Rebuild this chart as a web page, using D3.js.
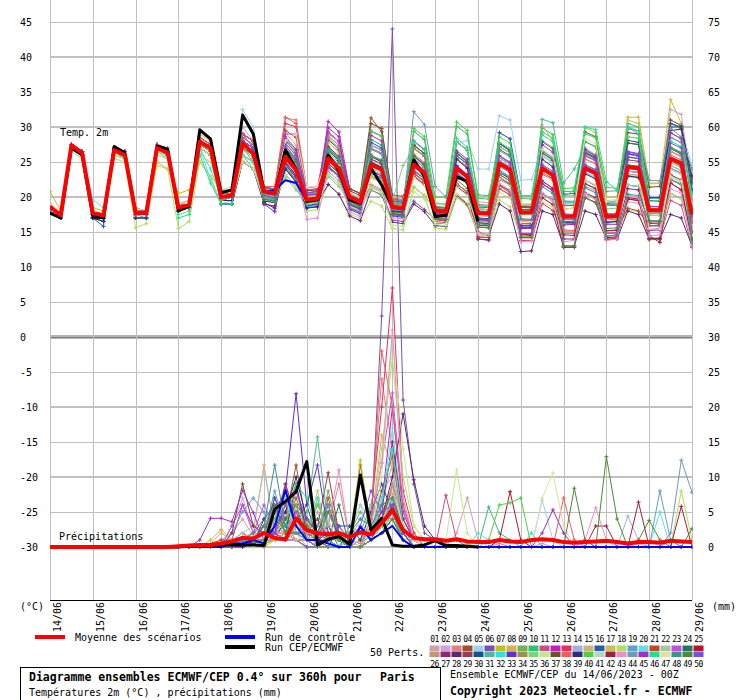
<!DOCTYPE html>
<html><head><meta charset="utf-8">
<script src="https://cdn.jsdelivr.net/npm/d3@7"></script>
<style>body{margin:0;background:#fff}svg{display:block}text{font-family:"DejaVu Sans Mono",monospace;fill:#000}</style>
</head><body><svg id="c" width="740" height="700"></svg>
<script>
// ---- axis labels ----
const dayLabels = ["14/06","15/06","16/06","17/06","18/06","19/06","20/06","21/06","22/06","23/06","24/06","25/06","26/06","27/06","28/06","29/06"];
const leftTicks = [45,40,35,30,25,20,15,10,5,0,-5,-10,-15,-20,-25,-30];
const rightTicks = [75,70,65,60,55,50,45,40,35,30,25,20,15,10,5,0];
const hours = d3.range(0, 361, 6); // 6-hourly steps, 0..360h

// ---- ensemble mean / control / operational (temp °C, precip mm) ----
const meanT = [18.6,17.4,27.4,26.3, 17.7,17.4,26.7,26.0, 17.7,17.7,27.0,26.3, 18.5,18.9,27.9,27.0, 20.0,20.2,27.7,26.2, 20.8,20.5,25.7,23.9, 19.6,19.8,25.5,24.1, 20.0,19.3,24.6,23.9, 18.6,18.4,24.6,23.4, 18.1,17.9,24.1,22.9, 17.7,17.6,24.8,23.9, 17.8,17.8,24.1,23.1, 17.2,17.2,24.1,23.4, 17.2,17.3,24.3,24.1, 18.1,18.1,25.5,24.8, 17.5];
const operT = [17.7,17.0,27.0,26.0, 17.2,17.0,27.2,26.3, 17.8,17.8,27.3,26.8, 18.0,18.7,29.6,28.3, 20.6,21.0,31.7,29.0, 20.8,20.5,26.7,24.0, 19.4,19.6,26.0,23.7, 19.6,19.1,24.1,21.7, 18.6,18.3,25.3,22.9, 17.2,17.4,22.9,22.2, 16.5];
const ctrlT = [18.6,17.4,27.4,26.3, 17.7,17.4,26.7,26.0, 17.7,17.7,27.0,26.3, 18.5,18.9,27.9,27.0, 20.0,20.2,27.7,26.2, 20.8,21.0,22.4,22.0, 19.6,19.8,25.5,24.1, 20.0,19.3,24.6,23.9, 18.6,18.4,24.6,23.4, 18.1,17.9,24.1,22.9, 17.7,17.6,24.8,23.9, 17.8,17.8,24.1,23.1, 17.2,17.2,24.1,23.4, 17.2,17.3,24.3,24.1, 18.1,18.1,25.5,24.8, 17.5];
const meanP = [0,0,0,0, 0,0,0,0, 0,0,0,0, 0.1,0.2,0.3,0.3, 0.5,0.8,1.3,1.2, 2.0,1.3,1.1,4.1, 2.4,2.0,1.8,2.0, 1.4,2.1,1.8,3.4, 5.3,2.4,1.3,1.1, 1.1,0.9,1.1,0.8, 0.7,0.7,1.0,0.8, 0.7,1.0,1.1,1.0, 0.7,0.6,0.7,0.8, 0.9,0.7,0.5,0.7, 0.7,0.6,0.9,0.8, 0.7];
const operP = [0,0,0,0, 0,0,0,0, 0,0,0,0, 0,0.1,0.2,0.3, 0.3,0.3,0.3,0.3, 0.2,5.4,6.5,7.9, 12.2,0.3,1.1,1.5, 0.4,10.3,2.4,4.1, 0.3,0.1,0.1,0.3, 0.9,0.2,0.2,0.1, 0];
const ctrlP = [0,0,0,0, 0,0,0,0, 0,0,0,0, 0,0,0,0, 0,0.5,0.5,1, 0.5,3,8.1,3, 1,1,0.5,0, 0,2.9,1,2, 3,1,0,0, 0,0,0,0, 0,0,0,0, 0,0,0,0, 0,0,0,0, 0,0,0,0, 0,0,0,0, 0];

// ---- 50 perturbed members: temperature ----
const T01=[18.5,17.5,27.5,26.5, 17.5,17,26.5,26, 17.5,17.5,27,26, 18.5,19,28,27, 20,20.5,28,26.5, 21.3,21.0,26.5,24.7, 19.1,19.3,27.8,26.4, 20.0,19.3,21.6,20.9, 18.0,17.8,25.6,24.4, 16.9,16.7,20.1,18.9, 14.7,14.6,22.8,21.9, 16.8,16.8,28.1,27.1, 19.2,19.2,26.1,25.4, 14.2,14.3,19.3,19.1, 18.1,18.1,28.5,27.8, 16.5];
const T02=[19,17.5,27,26, 18,17.5,27,26.5, 18,18,27,26.5, 18,18.5,28.5,27.5, 20.5,21,30,28, 21.5,21.2,27.7,25.9, 20.0,20.2,23.3,21.9, 19.4,18.7,27.4,26.7, 19.1,18.9,21.4,20.2, 18.1,17.9,27.9,26.7, 19.3,19.2,29.2,28.3, 20.2,20.2,21.9,20.9, 14.8,14.8,19.9,19.2, 14.8,14.9,25.7,25.5, 20.1,20.1,32.5,31.8, 21.5];
const T03=[18,17,27.5,26.5, 17,16.5,27,26.5, 17,17,27.5,26.5, 19,19.5,27,26, 20,20,27,25, 21,21,31.3,31, 21.0,21.2,29.0,28.0, 21.2,20.5,25.4,24.7, 19.1,18.9,23.4,22.2, 16.8,16.6,20.1,18.9, 16.3,16.2,25.2,24.3, 18.2,18.2,24.3,23.3, 16.8,16.8,27.9,27.2, 18.8,18.9,21.7,21.5, 15.9,15.9,22.5,21.8, 14.5];
const T04=[18,17,27,26, 17.5,17,26,25.5, 17.5,17.5,27,26.5, 18,18.5,27,26, 19.5,19.5,26,25, 20.0,19.7,24.7,22.9, 20.0,20.2,29.3,27.9, 21.2,20.5,31.3,29.3, 20.3,20.1,23.4,22.2, 18.0,17.8,21.9,20.7, 18.3,18.2,27.2,26.3, 18.2,18.2,25.9,24.9, 16.8,16.8,21.9,21.2, 16.8,16.9,27.7,27.5, 16.3,16.1,23.2,22.4, 16.5];
const T05=[19,18,27,26, 18,17.5,27,26, 18,18,27,26, 19,19.5,28.5,27.5, 21,21.5,32.5,30, 21.0,20.7,26.2,24.4, 20.0,20.2,24.8,23.4, 20.0,19.3,23.4,22.7, 19.1,18.9,29.4,28.2, 18.6,18.4,27.5,28.1, 24,24,31.6,31, 22.4,22.5,27,25, 18.8,18.8,23.9,23.2, 16.8,16.9,25.7,25.5, 19.9,19.9,30.5,29.8, 24.5];
const T06=[18.5,17.5,27.5,26.5, 17.5,17,27,26, 17.5,17.5,27,26, 18,18.5,28,27, 20,20,27,26, 20.0,19.7,23.2,21.4, 19.0,19.2,24.8,23.4, 18.8,18.1,21.4,20.7, 16.7,16.5,19.4,18.2, 16.8,16.6,21.9,20.7, 14.0,13.8,21.6,20.6, 14.2,14.2,21.9,20.9, 16.8,16.8,19.9,19.2, 14.8,14.9,19.7,19.5, 15.9,15.9,20.5,19.8, 14.5];
const T07=[20.8,18,27,26, 18.5,18,26,25.5, 18.5,18,25,24, 20.5,21,25,23, 21,21,26,25, 21.0,20.7,24.6,22.8, 20.0,20.2,24.8,23.4, 20.0,19.3,23.4,22.7, 19.1,18.9,21.4,20.2, 18.0,17.8,25.9,24.7, 16.3,16.2,23.2,22.3, 16.2,16.2,25.9,24.9, 18.8,18.8,29.9,29.2, 20,20,31.4,31.4, 22,22,33.9,30.5, 22];
const T08=[18.5,17.5,27,26, 17.5,17,27,26.5, 17,17,27,26.5, 18,18.5,29,28, 20,20,28,27, 20.5,20.2,26.2,24.4, 19.2,19.0,26.6,25.3, 20.0,19.3,27.4,26.7, 17.6,17.5,25.8,24.5, 18.0,17.8,25.9,24.7, 16.3,16.2,21.2,20.3, 16.6,16.4,24.3,23.2, 18.8,18.8,25.9,25.2, 17.1,17.3,23.2,22.8, 17.9,17.9,28.5,27.8, 16.5];
const T09=[18,17,27.5,26.5, 17,17,26.5,26, 17.5,17.5,27,26.5, 18.5,19,27.5,26.5, 20,20,27,26, 20.5,20.2,24.6,22.8, 19.5,19.7,26.3,24.9, 20.3,19.6,25.0,24.2, 18.5,18.3,25.4,24.2, 18.3,18.1,23.5,22.4, 16.3,16.2,25.2,24.3, 18.5,18.4,23.4,22.5, 16.8,16.8,25.9,25.2, 16.8,16.9,21.7,21.5, 17.9,17.9,24.5,23.8, 16.5];
const T10=[18.5,17,27,26, 18,17.5,26.5,25.5, 17.5,17,27,26, 18,18.5,27,26, 19.5,19.5,27,25.5, 20.0,19.7,24.6,22.8, 19.0,19.2,24.8,23.4, 19.4,18.7,29.4,28.7, 19.1,18.9,29.4,28.2, 19.0,19.0,30.1,29.0, 20.3,20.2,27.2,26.3, 18.2,18.2,29.9,28.9, 20.8,20.8,27.9,27.2, 18.8,18.9,30.5,30.0, 19.9,19.9,26.5,25.8, 18.5];
const T11=[19,17.5,27.5,26.5, 17.5,17.5,27,26, 18,18,27.5,26.5, 18.5,19,28,27, 19.5,20,28,27, 19.7,19.5,24.2,22.5, 18.7,18.9,24.5,23.0, 18.5,17.9,23.8,23.0, 17.9,17.7,23.4,22.2, 16.8,16.6,23.9,22.7, 14.3,14.2,25.2,24.3, 16.2,16.2,21.9,20.9, 14.8,14.8,19.9,19.2, 14.8,14.9,23.7,23.5, 14.1,14.1,19.5,18.8, 12.8];
const T12=[18.5,17.5,27,26.5, 17.5,17.5,26.5,26, 17.5,17.5,27,26.5, 18.5,19,28,27, 19.5,20,29,28, 21.0,20.7,27.7,25.9, 20.0,20.5,30.8,29.3, 21.2,20.5,27.4,26.7, 19.4,19.1,25.0,23.8, 18.0,17.8,23.9,22.7, 16.6,16.5,23.6,22.7, 18.2,18.2,21.9,20.9, 17.0,17.1,24.3,23.6, 16.8,16.9,23.7,23.5, 17.9,17.9,26.5,25.8, 18.5];
const T13=[18.5,17.5,27.5,26.5, 17.5,17,27,26, 17.5,17.5,27,26, 18,18.5,28,27, 20,20.5,29,28, 21.0,20.7,30.5,30.0, 20.3,20.4,25.9,24.6, 20.0,19.3,25.4,24.7, 18.5,18.3,23.4,22.2, 16.8,16.6,21.9,20.7, 14.3,14.2,21.2,20.3, 13.8,13.8,19.1,18.1, 14.8,14.8,23.9,23.2, 17.4,17.5,24.1,23.9, 13.9,14.0,22.0,21.0, 15];
const T14=[18.5,17.5,27,26, 17.5,17.5,27,26.5, 18,18,27,26.5, 19,19,28,27, 20,20,28,27, 21.2,20.9,26.0,24.1, 20.2,20.3,25.1,23.7, 20.0,19.3,27.4,26.7, 19.1,18.9,23.4,22.2, 18.0,17.8,27.9,26.7, 18.3,18.2,25.2,24.3, 16.5,16.6,24.2,23.3, 16.5,16.6,23.5,22.9, 18.8,18.9,23.7,23.5, 19.9,19.9,24.5,23.8, 16.5];
const T15=[18,17,27,26.5, 17.5,17,27,26.5, 17,17,27,26.5, 18,18.5,28.5,27.5, 20,20.5,29,27, 21.0,20.7,29.2,27.4, 19.8,20.0,26.0,24.6, 21.2,20.5,25.4,24.7, 19.3,19.2,25.7,24.6, 17.8,17.6,26.3,25.0, 18.3,18.2,27.2,26.3, 19.0,19.0,30.3,28.0, 20.2,20.2,25.9,25.2, 18.8,18.9,25.7,25.5, 17.9,17.9,26.5,25.8, 16.5];
const T16=[18,17,27.5,26.5, 17,15.8,27,26, 17.5,17.5,27,26.5, 18,18.5,27.5,26.5, 20,20,27,26, 20.5,20.2,23.2,21.4, 18.8,19.0,25.2,23.8, 19.4,18.7,23.4,22.7, 17.6,17.4,23.0,21.8, 17.4,17.2,25.9,24.7, 16.3,16.2,29.2,28.3, 20.2,20.2,23.9,22.9, 17.1,17.0,26.3,25.6, 18.8,18.9,25.7,25.5, 19.9,19.9,30.5,29.8, 18.5];
const T17=[19,17.5,27,26, 18,17.5,26.5,25.5, 18,18,26,25.5, 19,19.5,26,25, 20,20,26,25, 20.2,19.9,24.9,23.1, 20.0,20.2,27.8,26.4, 18.6,17.9,23.0,22.4, 17.9,17.7,27.4,26.2, 18.0,17.8,21.9,20.7, 16.0,15.9,22.8,21.9, 18.2,18.2,25.9,24.9, 18.8,18.8,21.9,21.2, 19,19,31,30.5, 21.9,21.9,30.5,29.8, 20.5];
const T18=[18,17,27,26, 17,16.5,25.5,25, 15.6,16.2,24.5,24, 15.5,16.5,25,23, 19,19,26,24, 19.0,18.7,23.2,21.4, 18.0,18.2,21.8,20.4, 17.6,16.9,19.4,18.7, 15.5,15.3,21.4,20.2, 15.6,15.4,19.9,18.7, 14.6,14.4,19.6,18.6, 14.2,14.2,19.9,18.9, 14.8,14.8,21.9,21.2, 15.1,15.2,18.2,17.9, 13.9,13.9,20.5,19.8, 14.5];
const T19=[18.5,17.5,27.5,26.5, 17.5,17,26.5,26, 17.5,17.5,27,26, 18.5,19,28,27, 20.5,20.5,28,27, 21.3,21.0,27.3,25.5, 20.4,20.5,26.0,24.5, 20.0,19.3,23.4,22.7, 17.9,17.7,25.4,24.2, 18.4,18.2,24.3,23.0, 16.6,16.4,25.6,24.7, 15.9,15.8,23.5,22.6, 14.8,14.8,23.9,23.2, 16.8,16.9,21.7,21.5, 15.9,15.9,28.5,27.8, 20.5];
const T20=[18.5,17,27,26, 19.6,18.5,26,25.5, 17.5,17.5,26.5,26, 18,18.5,27,22.5, 19,19.5,26,25, 19.8,19.6,24.9,23.0, 19.0,19.2,23.3,21.9, 18.8,18.1,25.4,24.7, 17.9,17.7,27.4,26.2, 17.7,17.5,23.6,22.4, 18.0,18.0,24.8,24.0, 18.2,18.2,25.9,24.9, 19.1,19.0,23.4,22.8, 18.8,18.9,21.7,21.5, 15.9,15.9,24.5,23.8, 18.5];
const T21=[18.5,17.5,27,26, 17.5,17.5,27,26, 18,18,27.5,26.5, 18.5,19,28,27, 20,20.5,28.5,27.5, 21.0,20.7,29.5,28.5, 20.6,20.7,26.8,25.4, 19.7,19.0,25.8,25.0, 19.1,18.9,23.4,22.2, 18.2,18.0,24.4,23.1, 18.6,18.5,24.8,24.0, 18.5,18.5,23.5,22.6, 18.8,18.8,25.9,25.2, 15.2,15.3,18.4,18.0, 15.9,15.9,22.5,21.8, 14.5];
const T22=[18,17,26.5,25.5, 17,17,26,25.5, 17,17,26.5,26, 18,18.5,27.5,27, 19.5,20,27,26, 20.7,20.4,25.8,24.0, 19.5,19.7,24.8,23.4, 19.1,18.4,23.0,22.3, 18.2,18.0,23.8,22.6, 18.0,17.8,21.9,20.7, 17.3,17.2,23.2,22.3, 16.5,16.4,20.4,19.4, 17.1,17.0,20.4,19.7, 16.8,16.9,21.7,21.5, 16.2,16.2,22.9,22.1, 16.5];
const T23=[19,17.5,27.5,26.5, 18,17.5,27,26.5, 18,18,27,26.5, 18.5,19,28.5,27.5, 20.5,21,29,27, 21.0,20.7,29.0,29.0, 21.0,21.2,29.3,27.9, 20.0,19.3,29.4,28.7, 19.3,19.2,25.8,24.6, 17.8,17.6,24.3,23.0, 16.7,16.6,22.8,21.9, 15.8,15.9,26.3,25.2, 16.8,16.8,25.9,25.2, 17.1,17.2,26.1,25.8, 17.6,17.7,26.9,26.1, 16.5];
const T24=[18,17,27,26, 17,17,27,26.5, 17.5,17.5,27.5,27, 18,18.5,28,27, 20,20,28,27, 19.8,19.5,26.6,24.8, 19.3,19.4,26.0,24.6, 19.1,18.4,25.0,24.3, 17.9,17.7,27.4,26.2, 17.7,17.5,26.3,25.0, 18.0,17.9,26.8,25.9, 18.2,18.2,27.9,26.9, 20.4,20.5,29.3,28.6, 18.8,18.9,27.7,27.5, 19.9,19.9,30.0,30.0, 22];
const T25=[18.5,17.5,27,26, 17.5,17,26.5,26, 17.5,17.5,27,26.5, 18.5,19,28,27, 20,20,27,26, 20.3,20.0,24.9,23.2, 19.5,19.7,24.8,23.4, 20.3,19.6,25.8,25.1, 18.8,18.6,23.0,21.9, 17.4,17.2,21.9,20.7, 16.0,15.8,23.6,22.7, 14.2,14.2,19.9,18.9, 12.8,12.8,23.9,23.2, 14.2,14.3,19.7,19.5, 14.1,14.1,22.5,21.8, 13.5];
const T26=[18.5,17.5,27.5,26.5, 17.5,17.5,26.5,26, 18,17.5,27,26.5, 18,18.5,27,26, 20,20,27,26, 20.6,20.4,24.3,22.6, 19.2,19.4,23.7,22.3, 19.0,18.4,21.8,21.1, 18.1,17.9,23.0,21.9, 17.4,17.2,21.9,20.7, 16.6,16.5,21.6,20.7, 16.0,15.9,22.3,21.3, 15.1,15.0,21.5,20.9, 16.5,16.6,23.3,23.1, 17.6,17.6,24.9,24.2, 16.5];
const T27=[18,17,27,26, 17,17,27,26, 17,17,26.5,26, 18,18.5,27,26, 19,19,25,24, 19.0,18.7,24.6,22.8, 18.7,18.9,26.7,25.3, 18.4,17.8,23.7,23.0, 17.5,17.3,23.7,22.6, 16.5,16.3,24.3,23.1, 14.0,13.9,23.5,22.6, 14.6,14.5,22.3,21.2, 14.0,14.0,21.9,21.2, 15.2,15.2,21.2,21.0, 16.2,16.3,24.1,23.4, 14.5];
const T28=[18.5,17.5,27,26, 17.5,17,26.5,26, 17.5,17.5,27,26.5, 18.5,19,27,26, 19,19,25,24, 19.2,18.4,24.0,22.3, 19.0,19.2,21.8,20.4, 17.3,16.6,21.0,20.3, 16.4,16.2,19.0,17.9, 15.9,15.8,20.3,19.0, 15.0,14.5,19.0,18.0, 12.2,12.3,18.0,17.5, 13.0,13.0,18.0,17.5, 14.0,14.0,18.0,17.5, 14.0,14.0,17.5,17.0, 13];
const T29=[18.5,17.5,27,26, 17.5,17,26.5,25.5, 17.5,17.5,27,26, 18.5,19,28,27, 20,20,28,27, 19.6,19.3,25.8,24.0, 19.7,19.9,26.8,25.3, 19.4,18.7,25.4,24.7, 17.6,17.5,23.8,22.6, 17.1,16.9,21.5,20.4, 15.9,15.9,24.7,23.8, 16.6,16.5,23.4,22.5, 17.2,17.1,22.4,21.6, 17.1,17.2,25.3,25.1, 18.3,18.2,26.9,26.2, 16.5];
const T30=[18,17,27,26, 17,16.5,26.5,26, 17,17,27,26.5, 18,18.5,28,27, 20,20,29,28, 20.3,20.0,26.5,24.7, 20.3,20.5,26.6,25.2, 20.3,19.6,27.8,27.0, 19.4,19.3,27.0,25.8, 18.6,18.4,27.9,26.7, 18.6,18.5,27.6,26.6, 15.9,16.0,24.2,23.2, 16.5,16.5,26.3,25.5, 19.1,19.2,28.1,27.8, 19.9,19.9,30.5,30.0, 21];
const T31=[18.5,17.5,27,26, 17.5,17,27,26, 17.5,17.5,27,26, 18.5,19,28,27, 20,20,27,26, 20.3,20.0,24.3,22.4, 19.3,19.5,24.4,23.1, 19.7,19.0,27.0,26.3, 18.2,18.0,25.0,23.9, 18.3,18.2,25.5,24.3, 17.9,17.8,25.6,24.7, 18.0,18.0,31.1,30.6, 22.0,24.0,27.0,26.0, 18.8,18.9,29.7,29.5, 17.9,17.9,22.5,21.8, 16.5];
const T32=[18.5,17,27,26, 18,17.5,27,26, 17.5,17.5,26.5,25.5, 19,19,27,24, 20,20,26,25, 19.5,19.3,25.2,23.4, 18.6,18.8,25.3,23.9, 18.3,17.7,23.9,23.2, 17.3,17.2,23.9,22.7, 17.5,17.4,26.4,25.1, 18.8,18.7,23.6,22.8, 18.8,18.7,26.4,25.4, 19.3,19.2,26.4,25.7, 19.3,19.3,26.2,25.9, 18.4,18.4,27.0,26.3, 19];
const T33=[18,17,27.5,26.5, 17,17,27,26, 17.5,17.5,27,26, 18,18.5,28,27, 19.5,20,28,27, 19.0,17.9,25.0,23.0, 18.5,18.6,26.0,24.6, 18.2,17.6,25.8,25.0, 17.3,17.1,25.9,24.6, 16.3,16.2,24.5,23.2, 15.7,15.6,25.7,24.8, 15.6,15.7,24.5,23.4, 16.2,16.3,24.4,23.7, 16.3,16.5,26.2,25.9, 15.4,15.5,23.1,22.4, 14.5];
const T34=[18.5,17.5,27,26, 17.5,17.5,26.5,26, 17.5,17.5,26.5,26, 18.5,19,27.5,26.5, 20,20,27,26, 20.9,20.6,26.9,25.1, 20.4,20.6,27.0,25.6, 20.6,19.9,22.8,22.1, 18.9,18.8,26.1,24.9, 18.7,18.5,23.3,22.1, 17.6,17.5,25.9,25.0, 18.8,18.9,26.6,25.6, 17.5,17.4,26.6,25.9, 17.6,17.7,23.1,22.9, 18.6,18.6,29.1,28.4, 19.5];
const T35=[18,17,27,26, 17.5,17,26.5,26, 17,17,26.5,26, 17.5,18,27,26, 19.5,19.5,26,24, 20.3,20.1,22.8,21.0, 19.3,19.4,22.9,21.5, 19.2,18.5,21.0,20.2, 19.5,24.5,27.0,26.0, 19.2,19.0,27.9,26.7, 18.6,18.6,24.6,23.8, 17.5,17.6,24.4,23.4, 16.1,16.1,24.6,23.9, 18.3,18.4,22.9,22.7, 17.4,17.3,25.1,24.4, 16.5];
const T36=[18.5,17.5,26.5,25.5, 17.5,17.5,26,25.5, 17.5,17.5,26,25.5, 18.5,19,26,25, 19.5,19.5,25,24, 19.5,19.2,23.2,21.4, 19.0,19.2,23.3,21.9, 18.8,18.1,21.4,20.7, 16.0,15.8,20.8,19.7, 16.1,15.9,20.4,19.2, 14.8,14.6,20.7,19.8, 16.6,16.5,19.4,18.5, 16.3,16.4,22.4,21.7, 16.2,16.4,23.2,22.9, 15.4,15.3,24.0,23.3, 14.5];
const T37=[18.5,17.5,27,26, 17.5,17,27,26.5, 17.5,17.5,27,26.5, 18.5,19,28.5,27.5, 20,20.5,29,28, 21.4,21.1,28.1,26.3, 20.6,20.8,28.2,26.8, 21.2,20.5,30.5,29.8, 19.7,19.5,27.4,26.2, 18.5,18.3,26.3,25.0, 18.9,18.8,27.7,26.7, 18.6,18.7,26.3,25.3, 18.3,18.4,26.4,25.6, 19.3,19.4,29.2,29.0, 21.4,21.5,31.0,30.2, 22.5];
const T38=[18.5,17.5,27.5,26.5, 17.5,17.5,27,26, 17.5,17.5,27.5,26.5, 18.5,19,28.5,27.5, 20.5,20.5,29,28, 21.5,21.5,31.4,30.5, 21.3,21.5,28.7,27.4, 20.5,19.9,26.9,26.2, 19.8,19.7,26.9,25.8, 18.4,18.3,25.4,24.3, 16.9,16.8,22.7,21.8, 16.7,16.6,23.3,22.4, 15.3,15.2,25.4,24.8, 14.4,14.6,24.2,24.0, 16.4,16.5,26.0,25.3, 16.5];
const T39=[18,17,27,26, 17,16.5,26.5,26, 17,17,27,26.5, 18,18.5,28,27, 19.5,19.5,27,26, 19.4,19.2,24.0,22.1, 18.4,18.6,24.2,22.9, 18.9,18.3,24.9,24.2, 18.0,17.9,24.9,23.7, 17.4,17.3,25.4,24.1, 17.0,16.9,22.5,21.7, 15.5,15.6,25.4,24.3, 16.4,16.3,23.3,22.6, 16.4,16.5,23.0,22.8, 19.5,19.4,29.5,29.7, 23];
const T40=[18.5,17.5,27,26, 17.5,17.5,27,26, 17.5,17.5,27,26, 18,18.5,27.5,26.5, 19.5,20,28,27, 20.8,20.4,25.7,24.0, 20.5,20.6,25.8,24.4, 20.6,19.9,29.4,28.7, 19.1,18.9,29.8,28.6, 20.0,20.0,30.7,29.5, 19.8,19.7,28.6,27.7, 19.8,19.7,29.3,28.4, 21.2,21.3,29.0,28.5, 21.4,21.2,28.6,28.4, 18.4,18.3,27.1,26.4, 18.5];
const T41=[18.5,17.5,27,26, 17.5,17.5,26.5,26, 17.5,17.5,26.5,26, 18.5,19,28,27, 20,20,27,26, 21.0,20.8,26.6,24.7, 19.9,20.0,25.2,23.8, 20.6,19.8,25.9,25.2, 19.6,19.4,22.9,21.7, 19.0,18.8,23.4,22.2, 18.8,18.7,25.7,24.8, 18.9,18.8,23.5,22.4, 19.5,19.4,22.5,21.7, 19.5,19.6,24.3,24.0, 18.5,18.5,23.9,23.2, 19.2];
const T42=[18.5,17.5,27,26, 17.5,17,26.5,26, 17.5,17.5,27,26, 18.5,19,28,27, 20,20,28,27, 21.1,20.7,25.5,23.6, 20.9,21.0,27.2,25.8, 20.9,20.2,24.7,24.1, 18.5,18.3,22.9,21.7, 17.9,17.8,23.4,22.2, 16.8,16.7,21.7,20.9, 14.7,14.6,20.5,19.6, 14.6,14.5,20.6,19.9, 13.9,14.1,19.9,19.7, 14.5,13.5,22.0,21.0, 14];
const T43=[18.5,17.5,27,26, 17.5,17.5,27,26, 17.5,17.5,27,26, 18.5,19,28,27, 20,20,27,26, 19.9,19.3,25.3,23.5, 16.8,17.0,24.0,23.0, 17.9,17.2,24.1,23.4, 17.0,16.9,24.2,23.0, 17.2,17.0,23.1,22.0, 14.9,14.7,21.9,21.0, 13.6,13.7,20.6,19.5, 13.6,13.8,20.5,19.6, 13.8,14.0,20.3,19.9, 14.4,14.6,21.2,20.5, 13.0];
const T44=[18.5,17.5,27,26, 17.5,17.5,27,26, 17.5,17.5,27,26.5, 18.5,19,28,27, 20,20.5,28,27, 20.7,20.4,28.3,26.6, 19.7,19.9,28.4,27.0, 20.3,19.8,26.8,26.1, 19.5,19.0,32.2,30.3, 21.5,20.0,24.0,23.0, 17.8,17.8,26.6,25.7, 17.8,17.7,26.6,25.6, 19.4,19.3,26.6,25.9, 20.8,20.9,30.0,29.0, 22.4,22.3,29.8,28.6, 24];
const T45=[18.5,17.5,27,26, 17.5,17.5,27,26.5, 17.5,17.5,27,26.5, 18.5,19,28,27, 20,20,28,27, 20.2,19.9,28.6,26.8, 20.3,20.4,29.9,28.6, 19.5,18.9,28.8,28.0, 18.7,18.5,28.0,26.8, 17.6,17.4,26.6,25.4, 17.8,17.6,25.9,24.9, 15.6,15.5,27.5,26.4, 16.0,16.1,26.8,25.8, 16.1,16.1,26.5,26.2, 15.2,15.3,29.2,28.3, 15.0];
const T46=[18,17,27,26, 17.5,17,26.5,25.5, 17.5,17.5,26.5,26, 17,17.5,26,22, 19,19,27,26, 19.8,19.5,25.9,24.1, 19.2,19.3,26.7,25.4, 19.8,19.1,25.9,25.3, 18.8,18.6,27.9,26.7, 18.4,18.2,28.4,27.1, 18.8,18.6,27.8,26.9, 20.2,20.2,28.9,27.9, 20.0,21.0,30.0,29.6, 22.2,21.0,30.0,29.4, 19.4,19.5,28.0,27.2, 20.5];
const T47=[19,18,27,26, 18,17.5,26.5,26, 17.5,17.5,26.5,26, 19,19,27,26, 20,20,27,26, 21.0,21.0,28.0,29.0, 21.4,21.6,26.0,24.5, 20.6,19.9,22.7,22.0, 18.3,18.1,22.8,21.6, 16.4,16.2,21.3,20.2, 15.8,15.7,22.6,21.6, 16.4,16.5,26.8,25.9, 18.3,18.4,28.4,27.6, 19.3,19.3,24.4,24.2, 15.5,15.4,23.0,22.3, 14.5];
const T48=[18.5,17.5,27,26, 17.5,17.5,27,26, 17.5,17.5,27,26, 18.5,19,28,27, 20,20,28,27, 21.5,21.1,27.0,25.3, 19.8,20.0,26.9,25.6, 20.2,19.5,28.2,27.4, 19.6,19.4,24.9,23.7, 18.6,18.4,23.2,22.0, 16.2,16.0,23.8,22.9, 16.9,16.8,21.5,20.5, 16.4,16.5,21.3,20.6, 14.4,14.6,20.4,20.2, 16.6,16.6,25.2,24.4, 13.5];
const T49=[18.5,17.5,27,26, 17.5,17,27,26, 17.5,17.5,27,26, 18,18.5,28,27, 20,20,27,26, 19.7,19.4,26.9,25.0, 19.2,19.5,24.3,23.0, 19.1,18.5,26.0,25.2, 17.5,17.3,25.9,24.7, 17.0,16.8,22.5,21.2, 15.7,15.6,23.2,22.3, 14.3,14.3,23.9,22.9, 13.0,13.0,19.9,19.2, 15.5,15.6,24.6,24.4, 16.6,16.5,27.1,26.3, 14.0];
const T50=[18,17,27.5,26.5, 17.5,17,27,26, 17.5,17.5,27,26, 18,18.5,28,27, 20,20,28,27, 20.9,20.6,27.3,25.4, 20.6,20.8,24.3,23.0, 18.9,18.2,24.7,24.0, 18.3,18.1,24.9,23.6, 17.3,17.2,23.4,22.2, 16.9,16.8,24.4,23.5, 14.8,14.8,24.6,23.7, 17.6,17.5,24.6,23.9, 17.5,17.6,26.4,26.1, 18.7,18.6,27.7,27.0, 17.2];

// ---- 50 perturbed members: precipitation (mm / 6h) ----
const P01=[0,0,0,0, 0,0,0,0, 0,0,0,0, 0,0,0,0.5, 1,2,4,1.5, 3,6,2,4, 2,5,1,3, 0,1,2,6, 12,4,1,0, 0,0,2,7, 1,0,0,0, 0,0,0.5,0, 0,0,0,0, 0,0,0,0.5, 0,0,0,0, 0];
const P02=[0,0,0,0, 0,0,0,0, 0,0,0,0, 0,0,0,0, 0.5,3,7,2, 1,2,9,3, 2,0,5,1, 0,0,1,3, 8,3,1,0, 0,0.5,0,0, 0,0,0,0, 0,0,0,0, 0,0,1,0, 0,0,0,0, 0,0,0,0, 0];
const P03=[0,0,0,0, 0,0,0,0, 0,0,0,0, 0,0,0,0, 0,0.5,1,0.5, 2,5,2,8, 3,6,3,9, 1,0.5,4,24, 14,6,1,0, 0,0,0,0, 0,0,0.5,0, 0,0,0,0, 0,0,0,0, 0,0,0,0, 0,0,1,0, 0];
const P04=[0,0,0,0, 0,0,0,0, 0,0,0,0, 0,0,0,0.5, 1,1,2,1, 0,2,4,11.7, 3,1,2,1, 0,11.7,3,5, 8,2,0,0, 0,0,0,0, 0,0,0,0, 0,0,0,0, 0,0,0,0, 0,0,0,0, 0,0,0,0, 0];
const P05=[0,0,0,0, 0,0,0,0, 0,0,0,0, 0,0,0,0, 0.5,1,2,3, 10.9,3,1,2, 1,0,0,0, 0,1,2,3, 9,5,2,0, 0,0,0,0, 0,0,0,0, 0,0,6.7,1, 0,0,0,0, 0,0,0,0, 0,0,0,0, 0];
const P06=[0,0,0,0, 0,0,0,0, 0,0,0,0, 0,0,0,0, 0,0.5,1,1, 1,2,1,3, 2,1,1,0, 0,1,3,33, 74,21,9,2, 1,0,0,0, 0,0,0,0, 0,0,0,0, 0,0,0,0, 0,0,0,0, 0,0,0,0, 0];
const P07=[0,0,0,0, 0,0,0,0, 0,0,0,0, 0,0,0,0, 0,0,0.5,0, 0,1,2,1, 1,2,1,2, 1,12.4,2,3, 6,2,0,0, 0,0,0,0, 0,0,0,0, 0,0,0,0, 0,0,0,0, 0,0,0,0, 0,0,0,0, 0];
const P08=[0,0,0,0, 0,0,0,0, 0,0,0,0, 0,0,0,1, 2.5,1,0.5,1, 2,4,9,5, 1,7,1,2, 0,0,3,16, 11,3,1,0, 0,0,0,0.5, 0,0,0,0, 0,0,0,0, 0,0,0,0, 0,0,0,0, 0,0,0,0, 0];
const P09=[0,0,0,0, 0,0,0,0, 0,0,0,0, 0,0,0,0, 0,0.5,1,0.5, 1,4,7,2, 3,1,8,2, 2,5,3,6, 7,2,0,0, 0,0,0,0, 0,0,0,0, 0,0,0,0, 0,0,0,0, 0,0,0,0, 0,0,0,0, 0];
const P10=[0,0,0,0, 0,0,0,0, 0,0,0,0, 0,0,0,0, 0,0,0.5,1, 0.5,1,1,2, 1,0,0,0, 3,2,6,4, 5,1,0,0, 0,0,0,0, 0,5.7,2,1, 0,0,0,0, 0,0,0,0, 0,0,0,0, 0,0,0,0, 0];
const P11=[0,0,0,0, 0,0,0,0, 0,0,0,0, 0,0,0,0, 0.5,0,1,2, 4,2,5,9, 1,2,6,1, 0,0,1,3, 9,4,1,0, 0,7.4,1,0, 0,0,0,0, 0,0,0,0, 0,0,0,0, 0,0,0,0, 0,0,0,0, 0];
const P12=[0,0,0,0, 0,0,0,0, 0,0,0,0, 0,0,0,0, 0,1,6,3, 2,7,3,5, 2,1,0,0, 0,0,2,6, 20,5,1,0, 0,0,0,0, 0,0,0,0, 0,0,0,0, 0,0,0,0, 0,0,0,0, 0,0,0,0, 0];
const P13=[0,0,0,0, 0,0,0,0, 0,0,0,0, 0,0,0,0, 0,0,0.5,1, 1,1,2,2, 1,1,2,1, 0,1,5,20, 37,8,2,0, 0,0,0,0, 0,0,0,0, 0,0,0,0, 0,0,0,0, 0,0,0,0, 0,0,0,0, 0];
const P14=[0,0,0,0, 0,0,0,0, 0,0,0,0, 0,0,0,0, 0,0.5,0,1, 1,2,1,2, 0,0,1,0, 2,6,4,8, 10,3,0,0, 0,0,0,0, 0,0,0,0, 0,0,0,0, 0,0,0,0, 0,0,4.4,1, 0,0,0,0, 0];
const P15=[0,0,0,0, 0,0,0,0, 0,0,0,0, 0,0,0,0.5, 2,1,1.5,2, 11.7,2,1,3, 1,1,0,0, 0,0,1,4, 6,2,0,0, 0,0,0,0, 0,0,0,0, 0,0,0,0, 0,0,0,0, 0,0,0,0, 0,0,0,0, 0];
const P16=[0,0,0,0, 0,0,0,0, 0,0,0,0, 0,0,0,0, 0,0,0.5,1, 2,7,4,6, 4,2,6,1, 0,0,1,2, 4,1,0,0, 0,0,0,0, 0,0,0,0, 0,0,0,0, 0,0,0,0, 0,0,0,0, 0,0,0,0, 0];
const P17=[0,0,0,0, 0,0,0,0, 0,0,0,0, 0,0,0,0, 0,0.5,0,0.5, 3,2,6,3, 2,8,1,0, 0,0,2,3, 8,2,0,0, 0,0,0,0, 0,0,0,0, 0,0,0,0, 0,0,0,0, 0,0,0,0, 0,0,0,0, 0];
const P18=[0,0,0,0, 0,0,0,0, 0,0,0,0, 0,0,0,0, 0,0,0.5,0.5, 1,1,2,3, 2,1,1,1, 0,1,3,14, 27,10,3,1, 0,0,0,0, 0,0,0,0, 0,0,0,0, 0,0,0,0, 0,0,0,0, 0,0,0,8, 1];
const P19=[0,0,0,0, 0,0,0,0, 0,0,0,0, 0,0,0,0, 0,2,5,7, 5,2,3,1, 0,0,0,0, 0,0,1,2, 5,1,0,0, 0,0,0,0, 0,0,0,0, 0,0,0,0, 0,0,0,0, 0,0,0,0, 0,8,1,0, 0];
const P20=[0,0,0,0, 0,0,0,0, 0,0,0,0, 0,0,0,0, 0,0,0.5,1, 1,2,3,2, 1,1,0,0, 0,0,2,6, 17,4,1,0, 0,0,0,0, 2,1,0,0, 0,0,0,0, 0,0,0,0, 0,0,0,0, 0,5,0,0, 0];
const P21=[0,0,0,0, 0,0,0,0, 0,0,0,0, 0,0,0,0, 0,0.5,1,0.5, 2,6,3,7, 3,1,7,2, 0,0,2,8, 13,3,0,0, 0,0,0,0, 0,0,0,0, 0,0,0,0, 0,0,0,0, 0,0,0,0, 0,0,0,0, 0];
const P22=[0,0,0,0, 0,0,0,0, 0,0,0,0, 0,0,0,0, 0,0,0.5,0, 0.5,1,1,2, 1,0,0,0, 1,4,6,3, 4,1,0,0, 0,0,0,0, 0,0,0,0, 0,0,0,0, 0,0,0,0, 0,0,0,0, 0,0,0,0, 0];
const P23=[0,0,0,0, 0,0,0,0, 0,0,0,0, 0,0,0,0, 0,3,6,2, 6,3,2,5, 1,1,0,0, 0,0,3,12, 22,6,1,0, 0,0,0,0, 0,0,0,0, 0,0,0,0, 0,0,0,0, 0,0,0,0, 0,0,0,0, 0];
const P24=[0,0,0,0, 0,0,0,0, 0,0,0,0, 0,0,0,0, 0,0,0.5,1, 1,3,8,2, 2,4,1,6, 0,0,1,3, 7,2,0,0, 0,0,0,0, 0,0,0,0, 0,0,0,0, 0,0,0,0, 0,0,0,0, 0,0,0,0, 0];
const P25=[0,0,0,0, 0,0,0,0, 0,0,0,0, 0,0,0,0, 0,0,0,0.5, 1,1,2,1, 1,0,0,0, 0,0,1,3, 6,1,0,0, 0,0,0,0, 0,0,1,7.9, 1,0,0,0, 0,0,0,0, 0,0,0,0, 0,0,0,0, 0];
const P26=[0,0,0,0, 0,0,0,0, 0,0,0,0, 0,0,0,0, 0,0,0.5,0.5, 2,5,4,8, 3,0,2,1, 0,0,1,4, 9,2,0,0, 0,0,0,0, 0,0,0,0, 0,0,0,0, 0,0,0,0, 0,0,0,0, 0,0,0,0, 0];
const P27=[0,0,0,0, 0,0,0,0, 0,0,0,0, 0,0,0,0, 0,0.5,1,1, 3,2,9,4, 6,1,3,0, 0,0,2,5, 15,4,1,0, 0,0,0,0, 0,0,0,0, 0,0,0,0, 0,0,0,0, 0,0,0,0, 0,0,0,0, 0];
const P28=[0,0,0,0, 0,0,0,0, 0,0,0,0, 0,0,0,0, 0,0,0.5,1, 1,1,2,1, 1,0,0,0, 0,0,1,4, 10,19,9.6,3, 1,0,0,0, 0,0,0,0, 0,0,0,0, 0,0,0,0, 0,0,0,0, 0,0,0,0, 0];
const P29=[0,0,0,0, 0,0,0,0, 0,0,0,0, 0,0,0,0, 0,0,1,0.5, 1,1,2,2, 2,3,10.6,2, 0,0,2,4, 8,2,0,0, 0,0,0,0, 0,0,0,0, 0,0,0,0, 0,0,0,0, 0,0,0,0, 0,0,0,0, 0];
const P30=[0,0,0,0, 0,0,0,0, 0,0,0,0, 0,0,0,0, 0,0,0.5,0.5, 4,6,2,9, 2,1,0,3, 3,1,5,9, 5,1,0,0, 0,0,0,0, 0,0,0,0, 0,0,0,0, 0,0,0,0, 0,0,0,0, 0,0,0,0, 0];
const P31=[0,0,0,0, 0,0,0,0, 0,0,0,0, 0,0,0,0, 0,0,1,1, 1,2,3,4, 5,15.7,3,1, 0,0,1,3, 7,2,0,0, 0,0,0,0, 0,0,0,0, 0,0,0,0, 0,0,0,0, 0,0,0,0, 0,0,0,0, 0];
const P32=[0,0,0,0, 0,0,0,0, 0,0,0,0, 0,0,0,0, 0,0,0.5,1, 1,5,2,3, 2,7,1,0, 0,0,2,7, 14,3,0,0, 0,0,0,0, 0,0,0,0, 0,2,0,0, 0,0,0,0, 0,0,0,0, 0,0,0,0, 0];
const P33=[0,0,0,0, 0,0,0,0, 0,0,0,0, 0,0,0,0, 0,0,0,1, 3,5,8,21.9, 6,11.7,2,1, 0,0,1,3, 6,2,0,0, 0,0,0,0, 0,0,0,0, 0,0,0,0, 0,0,0,0, 0,0,0,0, 0,0,0,0, 0];
const P34=[0,0,0,0, 0,0,0,0, 0,0,0,0, 0,0,0,0, 0,0.5,0.5,1, 2,4,6,3, 1,3,5,2, 0,0,1,2, 5,1,0,0, 0,0,0,0, 0,0,0,0, 0,0,0,0, 0,0,0,0, 0,0,0,0, 0,0,0,0, 0];
const P35=[0,0,0,0, 0,0,0,0, 0,0,0,0, 0,0,0,0, 0,0,0.5,0, 0.5,1,1,1, 0,0,0,0, 1,3,2,4, 3,1,0,0, 0,0,0,0, 0,0,0,0, 0,0,0,0, 0,0,0,0, 0,0,0,0, 0,0,0,0, 0];
const P36=[0,0,0,0, 0,0,0,0, 0,0,0,0, 0,0,0,0, 0,0,1,1, 1,1,2,1, 1,0,0,0, 0,0,2,10, 30,14,3,1, 0,1,11,2, 0,0,0,0, 0,0,0,0, 0,0,0,0, 0,0,0,0, 0,0,0,0, 0];
const P37=[0,0,0,0, 0,0,0,0, 0,0,0,0, 0,0,0,0, 0,2,9,3, 2,1,4,6, 1,0,0,0, 0,0,1,3, 6,2,0,0, 0,0,0,0, 0,0,0,0, 0,0,0,0, 0,0,0,0, 0,0,0,0, 0,0,0,0, 0];
const P38=[0,0,0,0, 0,0,0,0, 0,0,0,0, 0,0,0,0, 0,0,0.5,1, 1,2,2,1, 1,1,0,0, 0,0,4,28, 20,6,1,0, 0,0,0,0, 0,0,0,0, 0,0,0,0, 7,1,0,0, 0,0,0,0, 0,0,0,0, 0];
const P39=[0,0,0,0, 0,0,0,0, 0,0,0,0, 0,0,0,0, 0,0,1,0.5, 1,3,5,10, 4,2,3,1, 0,0,1,2, 4,1,0,0, 0,0,0,0, 0,0,0,0, 0,0,0,0, 0,0,0,0, 0,0,0,0, 0,0,0,0, 0];
const P40=[0,0,0,0, 0,0,0,0, 0,0,0,0, 0,0,0,0, 0,0,0.5,0.5, 3,5,2,6, 2,6,3,1, 0,0,1,3, 6,2,0,0, 0,0,0,0, 0,1,6,6.3, 7,0,0,0, 0,0,0,0, 0,0,0,0, 0,0,0,0, 0];
const P41=[0,0,0,0, 0,0,0,0, 0,0,0,0, 0,0,0,0, 0,0,0.5,0.5, 2,3,7,2, 1,2,4,0, 2,6,1,3, 4,1,0,0, 0,0,0,0, 0,0,0,0, 0,0,0,0, 0,0,0,0, 0,0,0,0, 0,0,0,0, 0];
const P42=[0,0,0,0, 0,0,0,0, 0,0,0,0, 0,0,0,0, 0,0,0.5,1, 1,1,2,1, 1,0,0,0, 0,0,1,3, 6,2,0,0, 0,0,0,0, 0,0,0,0, 0,0,0,0, 0,0,0,3, 3,0,0,6.4, 0,0,0,5.8, 0];
const P43=[0,0,0,0, 0,0,0,0, 0,0,0,0, 0,0,0,0, 0,0.5,1,1, 1,2,2,3, 2,2,3,11, 1,0,3,12, 31,7,1,0, 0,0,0,0, 0,0,0,0, 0,0,0,0, 0,0,1,5.6, 1,0,0,0, 0,0,0,0, 0];
const P44=[0,0,0,0, 0,0,0,0, 0,0,0,0, 0,0,0,0, 0,0,0.5,1, 2,8,3,4, 1,3,6,2, 0,0,1,3, 6,1,0,0, 0,0,0,0, 0,0,0,0, 0,0,0,0, 0,0,0,0, 0,0,0,0, 0,0,2,12.4, 7.8];
const P45=[0,0,0,0, 0,0,0,0, 0,0,0,0, 0,0,1,4.1, 4.1,3.6,8.1,4.9, 1,2,1,1, 0,0,1,0, 0,0,1,3, 6,2,0,0, 0,0,0,0, 0,0,0,0, 0,0,2,5.3, 2,0,0,0, 0,0,0,0, 0,0,0,0, 0];
const P46=[0,0,0,0, 0,0,0,0, 0,0,0,0, 0,0,0,0, 0,0,1,1, 2,4,3,9, 7,2,1,0, 0,0,1,3, 5,1,0,0, 0,0,0,0, 0,0,0,0, 0,0,0,0, 0,0,0,0, 0,0,0,0, 0,0,0,0, 0];
const P47=[0,0,0,0, 0,0,0,0, 0,0,0,0, 0,0,0,0, 0,0,0.5,0, 1,1,2,1, 1,0,0,0, 0,0,1,3, 8,3,1,0, 0,0,0,0, 0,0,0,0, 0,0,7,10.6, 3,0,0,0, 0,0,0,0, 0,0,0,0, 0];
const P48=[0,0,0,0, 0,0,0,0, 0,0,0,0, 0,0,0,0, 0,0,1,2, 3,11.7,3,2, 1,0,0,0, 2,4,3,6, 7,2,0,0, 0,0,0,0, 0,0,0,0, 0,0,0,0, 0,0,0,0, 0,0,0,0, 0,0,0,0, 0];
const P49=[0,0,0,0, 0,0,0,0, 0,0,0,0, 0,0,0,0, 0,0,0.5,0.5, 1,6,2,4, 3,1,5,2, 0,0,1,2, 4,1,0,0, 0,0,0,0, 0,0,0,0, 0,0,0,0, 0,8.4,1,0, 12.9,4,0,1, 3.8,1,0,0, 2.6];
const P50=[0,0,0,0, 0,0,0,0, 0,0,0,0, 0,0,0,0, 0,0,0.5,1, 2,2,6,8, 4,2,1,3, 1,3,8,5, 6,2,0,0, 0,0,0,0, 0,0,0,0, 0,0,0,0, 0,0,0,0, 0,0,0,0, 0,0,0,0, 0];

const memberColors = ["#d4a0a8","#d0a0e0","#e08080","#a05030","#a0d0f0","#7850b0","#c0c020","#d8b050","#70b060","#30c070",
  "#c85080","#c020c0","#e03060","#a0b0e0","#d0b080","#2060b0","#c8c060","#b0e060","#60a0d0","#60e0e0",
  "#c04828","#a0c8a0","#c050e0","#2a7060","#b01828","#c09878","#902870","#5a2870","#904050","#1a5090",
  "#50b890","#30e0e0","#6030d0","#a09050","#80d080","#c0e890","#705028","#e86060","#302878","#50d040",
  "#b0d8c0","#a02040","#e890c8","#7098b8","#a030c0","#20e090","#e0e0a0","#409090","#508838","#7850e0"];
const memberT = [T01,T02,T03,T04,T05,T06,T07,T08,T09,T10,T11,T12,T13,T14,T15,T16,T17,T18,T19,T20,T21,T22,T23,T24,T25,T26,T27,T28,T29,T30,T31,T32,T33,T34,T35,T36,T37,T38,T39,T40,T41,T42,T43,T44,T45,T46,T47,T48,T49,T50];
const memberP = [P01,P02,P03,P04,P05,P06,P07,P08,P09,P10,P11,P12,P13,P14,P15,P16,P17,P18,P19,P20,P21,P22,P23,P24,P25,P26,P27,P28,P29,P30,P31,P32,P33,P34,P35,P36,P37,P38,P39,P40,P41,P42,P43,P44,P45,P46,P47,P48,P49,P50];
memberT.forEach((a,i)=>{ if(a.length!==61) console.error("T"+(i+1)+" len "+a.length); });
memberP.forEach((a,i)=>{ if(a.length!==61) console.error("P"+(i+1)+" len "+a.length); });

// ---- scales ----
const svg = d3.select("#c");
const X0 = 50, X1 = 692, PTOP = 0, PBOT = 600;
const x = d3.scaleLinear().domain([0, 360]).range([X0, X1]);
const yT = d3.scaleLinear().domain([-30, 45]).range([547, 22]);
const yP = d3.scaleLinear().domain([0, 75]).range([547, 22]);

// ---- grid ----
const grid = svg.append("g");
leftTicks.forEach(v => {
  const yy = Math.round(yT(v));
  if (v === 0) {
    grid.append("rect").attr("x", X0).attr("width", X1 - X0).attr("y", yy - 2).attr("height", 4).attr("fill", "#b4b4b4");
    grid.append("line").attr("x1", X0).attr("x2", X1).attr("y1", yy + 0.5).attr("y2", yy + 0.5).attr("stroke", "#808080").attr("stroke-width", 1);
  } else {
    const thick = (v % 10 === 0);
    grid.append("line").attr("x1", X0).attr("x2", X1)
      .attr("y1", thick ? yy : yy + 0.5).attr("y2", thick ? yy : yy + 0.5)
      .attr("stroke", "#c0c0c0").attr("stroke-width", thick ? 2 : 1).attr("shape-rendering", "crispEdges");
  }
});
dayLabels.forEach((d, k) => {
  const xx = Math.round(x(24 * k)) + 0.5;
  grid.append("line").attr("x1", xx).attr("x2", xx).attr("y1", PTOP).attr("y2", PBOT)
    .attr("stroke", "#c0c0c0").attr("stroke-width", 1).attr("shape-rendering", "crispEdges");
});
svg.append("line").attr("x1", X0).attr("x2", X1).attr("y1", PBOT + 0.5).attr("y2", PBOT + 0.5).attr("stroke", "#000").attr("stroke-width", 1);

// ---- axis text ----
const lab = svg.append("g").style("font-size", "10px");
leftTicks.forEach(v => lab.append("text").attr("x", 20).attr("y", yT(v) + 4).text(v));
rightTicks.forEach(v => lab.append("text").attr("x", 708).attr("y", yP(v) + 4).text(v));
lab.append("text").attr("x", 20).attr("y", 610).text("(°C)");
lab.append("text").attr("x", 712).attr("y", 610).text("(mm)");
dayLabels.forEach((d, k) => {
  lab.append("text").attr("transform", `translate(${x(24 * k) + 11},632) rotate(-90)`).text(d);
});
lab.append("text").attr("x", 60).attr("y", 136).text("Temp. 2m");
lab.append("text").attr("x", 59).attr("y", 540).text("Précipitations");

// ---- series ----
const plot = svg.append("g");
plot.append("clipPath").attr("id", "clip").append("rect").attr("x", X0).attr("y", PTOP).attr("width", X1 - X0 + 1).attr("height", PBOT - PTOP);
const g = plot.append("g").attr("clip-path", "url(#clip)");
const lineT = d3.line().x((d, i) => x(hours[i])).y(d => yT(d));
const lineP = d3.line().x((d, i) => x(hours[i])).y(d => yP(d));
function crosses(arr, ys) {
  return arr.map((d, i) => { const px = x(hours[i]), py = ys(d); return `M${px - 2},${py}h4M${px},${py - 2}v4`; }).join("");
}
function drawSeries(arr, ys, lineGen, color, width, marks) {
  g.append("path").attr("d", lineGen(arr)).attr("fill", "none").attr("stroke", color).attr("stroke-width", width).attr("stroke-linejoin", "round");
  if (marks) g.append("path").attr("d", crosses(arr, ys)).attr("fill", "none").attr("stroke", color).attr("stroke-width", 1);
}
memberP.forEach((a, i) => drawSeries(a, yP, lineP, memberColors[i], 1, true));
memberT.forEach((a, i) => drawSeries(a, yT, lineT, memberColors[i], 1, true));
drawSeries(ctrlP, yP, lineP, "#0000ff", 2, false);
drawSeries(ctrlT, yT, lineT, "#0000ff", 2, false);
drawSeries(operP, yP, lineP, "#000000", 3, false);
drawSeries(operT, yT, lineT, "#000000", 3, false);
drawSeries(meanP, yP, lineP, "#ff0000", 4, false);
drawSeries(meanT, yT, lineT, "#ff0000", 4, false);

// ---- legend ----
const leg = svg.append("g").style("font-size", "10px");
leg.append("rect").attr("x", 35).attr("y", 635).attr("width", 30).attr("height", 4).attr("fill", "#ff0000");
leg.append("text").attr("x", 75).attr("y", 641).text("Moyenne des scénarios");
leg.append("rect").attr("x", 225).attr("y", 635).attr("width", 30).attr("height", 4).attr("fill", "#0000ff");
leg.append("text").attr("x", 265).attr("y", 641).text("Run de contrôle");
leg.append("rect").attr("x", 225).attr("y", 645).attr("width", 30).attr("height", 4).attr("fill", "#000");
leg.append("text").attr("x", 265).attr("y", 651).text("Run CEP/ECMWF");
leg.append("text").attr("x", 370).attr("y", 656).text("50 Perts.");
memberColors.forEach((c, i) => {
  const col = i % 25, row = Math.floor(i / 25);
  const sx = 429.5 + 11 * col;
  leg.append("rect").attr("x", sx).attr("y", row ? 651.5 : 645.5).attr("width", 10).attr("height", 5.5).attr("fill", c);
  leg.append("text").attr("x", sx + 5).attr("y", row ? 667 : 642).attr("text-anchor", "middle")
    .style("font-size", "8px").style("letter-spacing", "-0.6px").text(String(i + 1).padStart(2, "0"));
});

// ---- title block ----
svg.append("rect").attr("x", 20.5).attr("y", 667.5).attr("width", 420).attr("height", 40).attr("fill", "none").attr("stroke", "#000");
svg.append("text").attr("x", 29).attr("y", 681).style("font-size", "11.5px").style("font-weight", "bold").text("Diagramme ensembles ECMWF/CEP 0.4° sur 360h pour");
svg.append("text").attr("x", 380).attr("y", 681).style("font-size", "11.5px").style("font-weight", "bold").text("Paris");
svg.append("text").attr("x", 29).attr("y", 696).style("font-size", "10px").text("Températures 2m (°C) , précipitations (mm)");
svg.append("text").attr("x", 450).attr("y", 678).style("font-size", "10px").text("Ensemble ECMWF/CEP du 14/06/2023 - 00Z");
svg.append("text").attr("x", 450).attr("y", 695).style("font-size", "11.5px").style("font-weight", "bold").text("Copyright 2023 Meteociel.fr - ECMWF");
</script></body></html>
